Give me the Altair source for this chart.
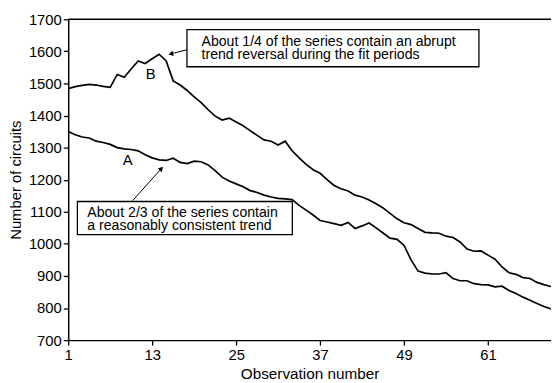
import altair as alt
import pandas as pd

obs = list(range(1, 71))
series_a = [1350, 1340, 1333, 1330, 1320, 1316, 1310, 1300, 1296, 1294,
            1290, 1278, 1268, 1262, 1260, 1267, 1254, 1250, 1258, 1256,
            1246, 1228, 1208, 1196, 1187, 1178, 1166, 1160, 1152, 1146,
            1142, 1140, 1138, 1120, 1105, 1090, 1073, 1068, 1063, 1058,
            1067, 1048, 1056, 1065, 1050, 1034, 1018, 1014, 995, 950,
            915, 909, 906, 906, 910, 892, 885, 885, 876, 873,
            872, 866, 868, 855, 845, 834, 824, 814, 805, 797]
series_b = [1484, 1490, 1494, 1497, 1495, 1491, 1488, 1528, 1519, 1545,
            1570, 1562, 1577, 1591, 1570, 1508, 1495, 1478, 1458, 1440,
            1418, 1398, 1386, 1392, 1380, 1368, 1353, 1338, 1324, 1320,
            1308, 1320, 1290, 1268, 1248, 1231, 1220, 1200, 1182, 1172,
            1165, 1152, 1146, 1137, 1125, 1112, 1095, 1078, 1066, 1060,
            1048, 1036, 1034, 1033, 1024, 1020, 1006, 984, 977, 978,
            965, 952, 928, 910, 905, 895, 892, 880, 873, 867]
x_ticks = [1, 13, 25, 37, 49, 61]
y_ticks = [700, 800, 900, 1000, 1100, 1200, 1300, 1400, 1500, 1600, 1700]

series_names = ["A", "B"]
label_x = [9.5, 12.8]
label_y = [1260, 1529]

note_lines = ["About 1/4 of the series contain an abrupt",
              "trend reversal during the fit periods",
              "About 2/3 of the series contain",
              "a reasonably consistent trend"]
note_x = [20.05, 20.05, 3.72, 3.72]
note_y = [1618, 1575, 1083, 1042]

box_x = [17.97, 2.31]
box_x2 = [59.7, 33.03]
box_y = [1552, 1029]
box_y2 = [1668, 1132]

arrow_x = [18.07, 10.21]
arrow_y = [1605.5, 1134.8]
arrow_x2 = [15.66, 14.31]
arrow_y2 = [1592.2, 1234.6]
arrow_angle = [256, 42]

W, H = 489, 325
FONT = "Liberation Sans"

df = pd.DataFrame({
    "obs": obs * 2,
    "circuits": series_a + series_b,
    "series": ["A"] * len(obs) + ["B"] * len(obs),
})
labels_df = pd.DataFrame({"label": series_names, "x": label_x, "y": label_y})
notes_df = pd.DataFrame({"text": note_lines, "x": note_x, "y": note_y})
boxes_df = pd.DataFrame({"x": box_x, "x2": box_x2, "y": box_y, "y2": box_y2})
arrows_df = pd.DataFrame({"x": arrow_x, "y": arrow_y, "x2": arrow_x2,
                          "y2": arrow_y2, "angle": arrow_angle})

xs = alt.Scale(domain=[1, 70], nice=False, zero=False)
ys = alt.Scale(domain=[700, 1700], nice=False, zero=False)

x_axis = alt.Axis(values=x_ticks, title="Observation number", grid=False,
                  tickSize=5, labelPadding=3, titlePadding=4, format="d",
                  labelFontSize=15, titleFontSize=15.5, labelFlush=False,
                  labelOverlap=False)
y_axis = alt.Axis(values=y_ticks, title="Number of circuits", grid=False,
                  tickSize=5, labelPadding=2, titlePadding=5, format="d",
                  labelFontSize=15, titleFontSize=15, labelOverlap=False,
                  labelBound=False)


def X(field):
    return alt.X(field, scale=xs, axis=x_axis)


def Y(field):
    return alt.Y(field, scale=ys, axis=y_axis)


lines = alt.Chart(df).mark_line(color="black", strokeWidth=1.7).encode(
    x=X("obs:Q"), y=Y("circuits:Q"), detail="series:N",
)

top_rule = alt.Chart(pd.DataFrame({"k": [0]})).mark_rule(
    color="black", strokeWidth=1.5).encode(
    x=alt.value(0), x2=alt.value(W), y=alt.value(0))

labels = alt.Chart(labels_df).mark_text(
    font=FONT, fontSize=15, color="black", align="center", baseline="middle"
).encode(x=X("x:Q"), y=Y("y:Q"), text="label:N")

boxes = alt.Chart(boxes_df).mark_rect(
    fill="white", stroke="black", strokeWidth=1.3).encode(
    x=X("x:Q"), x2="x2:Q", y=Y("y:Q"), y2="y2:Q")

notes = alt.Chart(notes_df).mark_text(
    font=FONT, fontSize=14.3, color="black", align="left", baseline="alphabetic"
).encode(x=X("x:Q"), y=Y("y:Q"), text="text:N")

arrow_lines = alt.Chart(arrows_df).mark_rule(color="black", strokeWidth=1).encode(
    x=X("x:Q"), y=Y("y:Q"), x2="x2:Q", y2="y2:Q")

arrow_heads = alt.Chart(arrows_df).mark_point(
    shape="triangle-up", filled=True, color="black", size=30, opacity=1).encode(
    x=X("x2:Q"), y=Y("y2:Q"),
    angle=alt.Angle("angle:Q", scale=None))

chart = alt.layer(lines, top_rule, labels, arrow_lines, arrow_heads, boxes, notes).properties(
    width=W, height=H,
    padding={"left": 61, "top": 9, "right": 0, "bottom": 40},
    autosize=alt.AutoSizeParams(type="none"),
).configure_view(stroke=None).configure_axis(
    domainColor="black", domainWidth=1.5, tickColor="black", tickWidth=1.3,
    labelColor="black", titleColor="black", labelFont=FONT, titleFont=FONT,
    titleFontWeight="normal",
)

chart.save("out.html", embed_options={"renderer": "svg", "actions": False})
